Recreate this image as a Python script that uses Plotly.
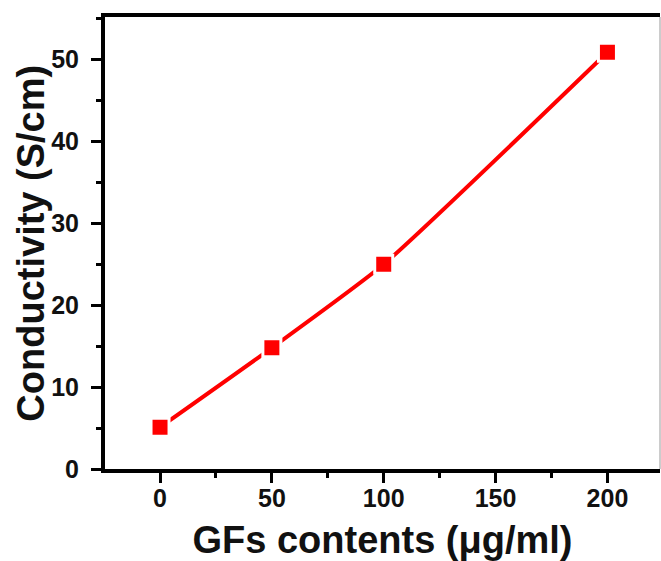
import plotly.graph_objects as go

gf_content = [0, 50, 100, 200]
conductivity = [5.1, 14.8, 25.0, 50.9]
x_ticks = [0, 50, 100, 150, 200]
y_ticks = [0, 10, 20, 30, 40, 50]

FONT = "Liberation Sans, Arial, sans-serif"

fig = go.Figure()
fig.add_trace(go.Scatter(
    x=gf_content, y=conductivity, mode="lines+markers",
    line=dict(color="#FF0000", width=4, shape="spline", smoothing=0.5),
    marker=dict(symbol="square", size=18, color="#FF0000",
                line=dict(color="white", width=3)),
    showlegend=False,
))

axis_common = dict(
    showline=True, linecolor="black", linewidth=4,
    ticks="outside", ticklen=10, tickwidth=3, tickcolor="black",
    showgrid=False, zeroline=False,
    tickfont=dict(family=FONT, size=25, color="#111", weight="bold"),
    minor=dict(ticks="outside", ticklen=5, tickwidth=3, tickcolor="black", showgrid=False),
)

fig.update_xaxes(
    range=[-24.6, 223.5], tickvals=x_ticks, mirror=True,
    minor_dtick=25, minor_tick0=-25, ticklabelstandoff=-6,
    title=dict(text="GFs contents (μg/ml)", standoff=16,
               font=dict(family=FONT, size=38, color="#111", weight="bold")),
    **axis_common,
)
fig.update_yaxes(
    range=[0, 55.2], tickvals=y_ticks,
    minor_dtick=5, minor_tick0=5, ticklabelstandoff=7,
    **axis_common,
)

fig.add_annotation(
    text="Conductivity (S/cm)", textangle=-90, showarrow=False,
    xref="paper", yref="paper", x=-0.134, y=0.5,
    xanchor="center", yanchor="middle",
    font=dict(family=FONT, size=38, color="#111", weight="bold"),
)

fig.add_shape(type="line", xref="paper", yref="paper", x0=1, x1=1, y0=0, y1=1,
              line=dict(color="#999", width=1))

fig.update_layout(
    width=661, height=561,
    margin=dict(l=105, r=1, t=17, b=92),
    plot_bgcolor="white", paper_bgcolor="white",
)

fig.write_html("out.html")
